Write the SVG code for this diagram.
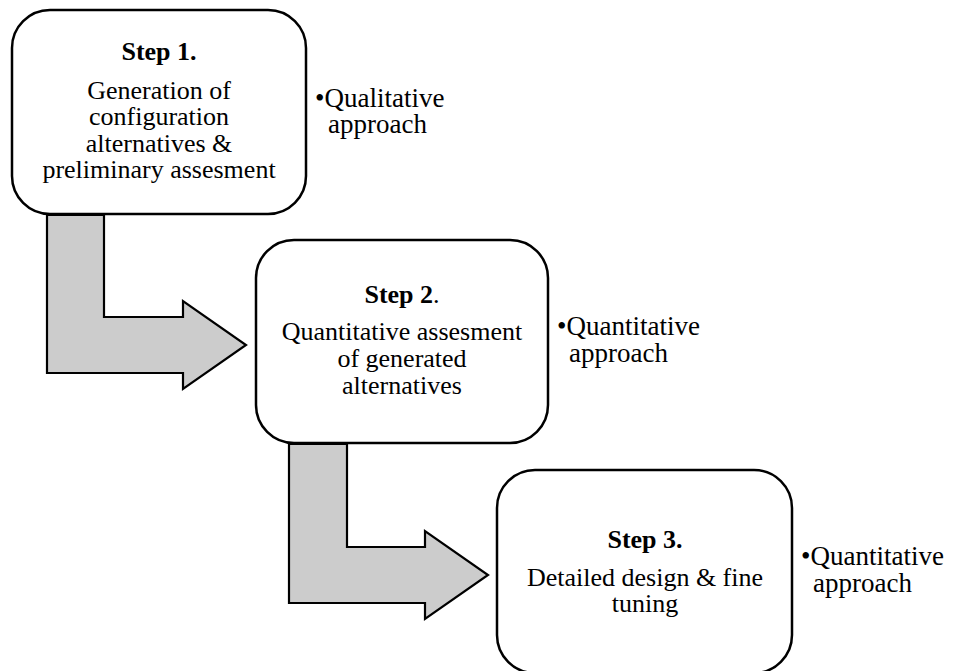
<svg xmlns="http://www.w3.org/2000/svg" width="958" height="671" viewBox="0 0 958 671">
  <style>
    .box { fill: #ffffff; stroke: #000000; stroke-width: 2.5; }
    .arrow { fill: #cccccc; stroke: #000000; stroke-width: 2.2; stroke-linejoin: miter; }
    .title { font-size: 26px; font-weight: bold; text-anchor: middle; }
    .body { font-size: 26px; text-anchor: middle; }
    .side { font-size: 27px; }
    .plain { font-weight: normal; }
  </style>

  <rect width="958" height="671" fill="#ffffff"/>

  <!-- bent block arrows between the steps -->
  <g id="connectors">
    <path class="arrow" d="M47,215 L104,215 L104,317 L183,317 L183,301 L246,345 L183,389 L183,373 L47,373 Z"/>
    <path class="arrow" d="M289,444 L347,444 L347,547 L425,547 L425,531 L488,575 L425,619 L425,603 L289,603 Z"/>
  </g>

  <g font-family="Liberation Serif, DejaVu Serif, serif" fill="#000000">
    <g id="step1">
      <rect class="box" x="12" y="10" width="294" height="204" rx="38" ry="38"/>
      <text class="title" x="159" y="60">Step 1.</text>
      <text class="body" x="159" y="99">Generation of</text>
      <text class="body" x="159" y="125">configuration</text>
      <text class="body" x="159" y="152">alternatives &amp;</text>
      <text class="body" x="159" y="178">preliminary assesment</text>
    </g>

    <g id="note1">
      <text class="side" x="315" y="107">•Qualitative</text>
      <text class="side" x="328" y="133">approach</text>
    </g>

    <g id="step2">
      <rect class="box" x="256" y="240" width="292" height="203" rx="38" ry="38"/>
      <text class="title" x="402" y="303">Step 2<tspan class="plain">.</tspan></text>
      <text class="body" x="402" y="340">Quantitative assesment</text>
      <text class="body" x="402" y="367">of generated</text>
      <text class="body" x="402" y="394">alternatives</text>
    </g>

    <g id="note2">
      <text class="side" x="557" y="335">•Quantitative</text>
      <text class="side" x="569" y="362">approach</text>
    </g>

    <g id="step3">
      <rect class="box" x="497" y="470" width="295" height="203" rx="38" ry="38"/>
      <text class="title" x="645" y="548">Step 3.</text>
      <text class="body" x="645" y="586">Detailed design &amp; fine</text>
      <text class="body" x="645" y="612">tuning</text>
    </g>

    <g id="note3">
      <text class="side" x="801" y="565">•Quantitative</text>
      <text class="side" x="813" y="592">approach</text>
    </g>
  </g>
</svg>
